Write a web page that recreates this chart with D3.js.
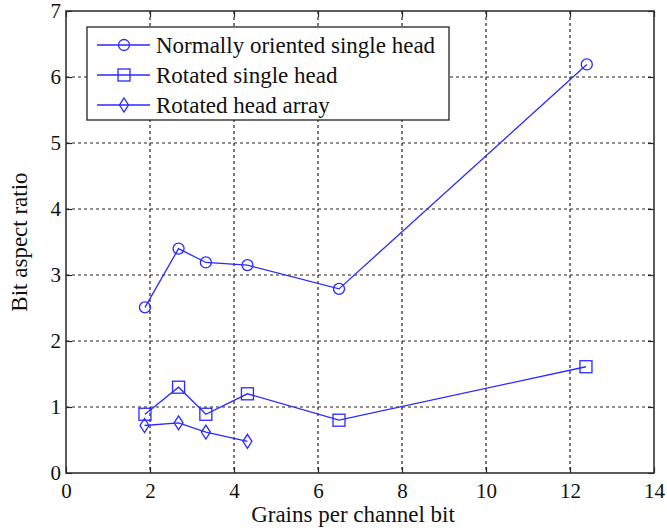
<!DOCTYPE html>
<html>
<head>
<meta charset="utf-8">
<script src="https://cdn.jsdelivr.net/npm/d3@7"></script>
<style>
  html, body { margin: 0; padding: 0; background: #fff; }
  svg { display: block; }
  text { font-family: "Liberation Serif", "Times New Roman", serif; fill: #111; }
</style>
</head>
<body>
<svg id="chart" width="667" height="532"></svg>
<script>
// Grains per channel bit (x) and bit aspect ratio (y) for each head configuration
const normalX = [1.88, 2.68, 3.33, 4.32, 6.5, 12.4];
const normalY = [2.51, 3.40, 3.19, 3.15, 2.79, 6.19];
const rotatedX = [1.88, 2.68, 3.33, 4.32, 6.5, 12.38];
const rotatedY = [0.89, 1.30, 0.89, 1.20, 0.80, 1.61];
const arrayX = [1.87, 2.68, 3.33, 4.32];
const arrayY = [0.72, 0.76, 0.62, 0.48];

const seriesNames = ["Normally oriented single head", "Rotated single head", "Rotated head array"];
const markerKinds = ["circle", "square", "diamond"];

const xTicks = [0, 2, 4, 6, 8, 10, 12, 14];
const yTicks = [0, 1, 2, 3, 4, 5, 6, 7];

const blue = "#2a2aff";
const svg = d3.select("#chart");
const plotL = 66, plotR = 654, plotT = 11, plotB = 473;

const x = d3.scaleLinear().domain([0, 14]).range([plotL, plotR]);
const y = d3.scaleLinear().domain([0, 7]).range([plotB, plotT]);

// dashed grid
const grid = svg.append("g");
grid.selectAll("line.gx").data(xTicks.slice(1, -1)).enter().append("line")
  .attr("x1", d => x(d)).attr("x2", d => x(d)).attr("y1", plotT).attr("y2", plotB)
  .attr("stroke", "#222").attr("stroke-width", 1.2).attr("stroke-dasharray", "3,3");
grid.selectAll("line.gy").data(yTicks.slice(1, -1)).enter().append("line")
  .attr("x1", plotL).attr("x2", plotR).attr("y1", d => y(d)).attr("y2", d => y(d))
  .attr("stroke", "#222").attr("stroke-width", 1.2).attr("stroke-dasharray", "3,3");

// axes with inward ticks
const axB = svg.append("g").attr("transform", `translate(0,${plotB})`)
  .call(d3.axisBottom(x).tickValues(xTicks).tickSize(-6).tickPadding(10).tickFormat(d3.format("d")));
const axL = svg.append("g").attr("transform", `translate(${plotL},0)`)
  .call(d3.axisLeft(y).tickValues(yTicks).tickSize(-6).tickPadding(5).tickFormat(d3.format("d")));
const axT = svg.append("g").attr("transform", `translate(0,${plotT})`)
  .call(d3.axisTop(x).tickValues(xTicks).tickSize(-6).tickFormat(""));
const axR = svg.append("g").attr("transform", `translate(${plotR},0)`)
  .call(d3.axisRight(y).tickValues(yTicks).tickSize(-6).tickFormat(""));
[axB, axL, axT, axR].forEach(a => {
  a.select(".domain").remove();
  a.selectAll("line").attr("stroke", "#222").attr("stroke-width", 1.2);
  a.selectAll("text").style("font-family", "'Liberation Serif', serif").style("font-size", "21px").attr("fill", "#111");
});
axB.selectAll("text").attr("dy", "0.71em");

svg.append("rect").attr("x", plotL).attr("y", plotT).attr("width", plotR - plotL).attr("height", plotB - plotT)
  .attr("fill", "none").attr("stroke", "#333").attr("stroke-width", 1.6);

// markers
function marker(g, kind, cx, cy) {
  if (kind === "circle") {
    g.append("circle").attr("cx", cx).attr("cy", cy).attr("r", 5.5);
  } else if (kind === "square") {
    g.append("rect").attr("x", cx - 6).attr("y", cy - 6).attr("width", 12).attr("height", 12);
  } else {
    g.append("path").attr("d", `M${cx},${cy - 7}L${cx + 4.5},${cy}L${cx},${cy + 7}L${cx - 4.5},${cy}Z`);
  }
}

const allSeries = [[normalX, normalY], [rotatedX, rotatedY], [arrayX, arrayY]];
const line = d3.line().x(d => x(d[0])).y(d => y(d[1]));
allSeries.forEach(([xs, ys], i) => {
  const pts = xs.map((v, j) => [v, ys[j]]);
  const g = svg.append("g").attr("fill", "none").attr("stroke", blue).attr("stroke-width", 1.3);
  g.append("path").attr("d", line(pts));
  pts.forEach(p => marker(g, markerKinds[i], x(p[0]), y(p[1])));
});

// legend
const lg = svg.append("g");
lg.append("rect").attr("x", 87).attr("y", 27).attr("width", 362).attr("height", 93)
  .attr("fill", "#fff").attr("stroke", "#222").attr("stroke-width", 1.3);
seriesNames.forEach((name, i) => {
  const ly = 45 + i * 30;
  const g = lg.append("g").attr("fill", "none").attr("stroke", blue).attr("stroke-width", 1.3);
  g.append("line").attr("x1", 97).attr("x2", 150).attr("y1", ly).attr("y2", ly);
  marker(g, markerKinds[i], 124, ly);
  lg.append("text").attr("x", 156).attr("y", ly).attr("dy", "0.35em")
    .style("font-size", "23px").text(name);
});

// axis titles
svg.append("text").attr("x", 353).attr("y", 522).attr("text-anchor", "middle")
  .style("font-size", "23px").text("Grains per channel bit");
svg.append("text").attr("transform", `translate(27,${(plotT + plotB) / 2}) rotate(-90)`)
  .attr("text-anchor", "middle").style("font-size", "23px").text("Bit aspect ratio");
</script>
</body>
</html>
